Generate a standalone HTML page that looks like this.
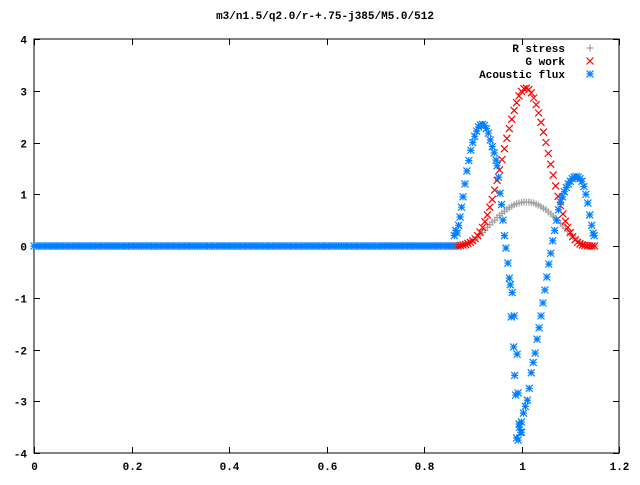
<!DOCTYPE html>
<html><head><meta charset="utf-8"><style>
html,body{margin:0;padding:0;background:#fff;}
svg text{font-family:"Liberation Mono",monospace;font-size:11px;font-weight:bold;fill:#000;}
</style></head><body>
<svg id="chart" width="640" height="480" viewBox="0 0 640 480" xmlns="http://www.w3.org/2000/svg">
<rect width="640" height="480" fill="#fff"/>
<text x="325" y="19" text-anchor="middle">m3/n1.5/q2.0/r-+.75-j385/M5.0/512</text>
<g id="axes"></g>
<g id="marks"></g>
<g id="legend">
<text x="565" y="52" text-anchor="end">R stress</text>
<text x="565" y="65" text-anchor="end">G work</text>
<text x="565" y="78" text-anchor="end">Acoustic flux</text>
</g>
</svg>
<script>
const xTicks=[0,0.2,0.4,0.6,0.8,1,1.2];
const xTickLabels=["0","0.2","0.4","0.6","0.8","1","1.2"];
const yTicks=[-4,-3,-2,-1,0,1,2,3,4];
const yTickLabels=["-4","-3","-2","-1","0","1","2","3","4"];
const activeStart=0.86, activeStep=0.005;
const rStress=[0,0,0,.01,.02,.03,.05,.07,.1,.13,.17,.21,.26,.31,.36,.41,.46,.5,.55,.59,.63,.67,.71,.74,.77,.8,.82,.83,.84,.85,.85,.85,.84,.83,.81,.79,.76,.73,.7,.66,.62,.58,.54,.49,.44,.39,.34,.29,.24,.19,.15,.11,.08,.05,.03,.02,.01,0,0];
const gWork=[0,0,0,.01,.02,.03,.05,.07,.1,.14,.2,.27,.36,.47,.6,.75,.9,1.08,1.27,1.47,1.67,1.88,2.08,2.27,2.45,2.62,2.77,2.9,2.99,3.04,3.05,3.02,2.96,2.86,2.73,2.57,2.39,2.2,2.0,1.79,1.58,1.37,1.16,.96,.78,.62,.48,.36,.26,.18,.12,.07,.04,.02,.01,0,0,0,0];
const fluxX=[0.862,0.865,0.868,0.871,0.874,0.877,0.88,0.884,0.888,0.892,0.896,0.9,0.904,0.908,0.912,0.916,0.92,0.924,0.928,0.932,0.936,0.94,0.944,0.948,0.95,0.953,0.956,0.959,0.962,0.965,0.968,0.972,0.975,0.977,0.981,0.979,0.985,0.984,0.991,0.986,0.993,0.988,0.995,0.996,0.99,0.998,0.993,1.0,1.0,1.004,1.008,1.012,1.016,1.02,1.024,1.028,1.032,1.036,1.04,1.044,1.048,1.052,1.056,1.06,1.064,1.068,1.072,1.076,1.08,1.084,1.088,1.092,1.096,1.1,1.104,1.108,1.112,1.116,1.12,1.124,1.128,1.132,1.136,1.14,1.144,1.147,1.149];
const fluxY=[0.2,0.3,0.25,0.4,0.56,0.75,0.95,1.2,1.45,1.65,1.85,2.0,2.12,2.22,2.3,2.34,2.35,2.33,2.27,2.18,2.05,1.92,1.8,1.66,1.55,1.33,1.02,0.8,0.5,0.2,-0.04,-0.33,-0.62,-0.75,-0.9,-1.37,-1.35,-1.95,-2.09,-2.5,-2.84,-2.88,-3.44,-3.5,-3.71,-3.6,-3.75,-3.6,-3.4,-3.23,-3.1,-2.98,-2.75,-2.45,-2.25,-2.07,-1.8,-1.58,-1.35,-1.1,-0.85,-0.6,-0.35,-0.14,0.1,0.3,0.5,0.7,0.85,0.95,1.05,1.13,1.2,1.25,1.3,1.33,1.34,1.33,1.3,1.25,1.15,1.0,0.83,0.6,0.4,0.25,0.2];
const baselineCount=173;
const baseline=new Array(baselineCount).fill(0);

const X0=34,X1=619,Y0=453,Y1=39,xMin=0,xMax=1.2,yMin=-4,yMax=4;
const sx=v=>X0+(v-xMin)/(xMax-xMin)*(X1-X0);
const sy=v=>Y0-(v-yMin)/(yMax-yMin)*(Y0-Y1);
const NS="http://www.w3.org/2000/svg";
const axes=document.getElementById('axes'), marks=document.getElementById('marks');
function mk(tag,attrs,parent){const e=document.createElementNS(NS,tag);for(const k in attrs)e.setAttribute(k,attrs[k]);parent.appendChild(e);return e;}
const frame=mk('rect',{x:X0,y:Y1,width:X1-X0,height:Y0-Y1,fill:'none',stroke:'#000','stroke-width':1},axes);


xTicks.forEach((t,i)=>{const x=Math.round(sx(t))+0.5;
 const tk=mk('path',{d:`M${x} ${Y0}V${Y0-6}M${x} ${Y1}V${Y1+6}`,stroke:'#000','stroke-width':1},axes);
 
 
 const lb=mk('text',{x:x,y:470,'text-anchor':'middle'},axes);lb.textContent=xTickLabels[i];
 
 
});
yTicks.forEach((t,i)=>{const y=Math.round(sy(t))+0.5;
 const tk=mk('path',{d:`M${X0} ${y}H${X0+6}M${X1} ${y}H${X1-6}`,stroke:'#000','stroke-width':1},axes);
 
 
 const lb=mk('text',{x:27,y:y+4,'text-anchor':'end'},axes);lb.textContent=yTickLabels[i];
 
 
});
const plus=(x,y)=>`M${x-3.5} ${y}H${x+3.5}M${x} ${y-3.5}V${y+3.5}`;
const cross=(x,y)=>`M${x-3.5} ${y-3.5}L${x+3.5} ${y+3.5}M${x-3.5} ${y+3.5}L${x+3.5} ${y-3.5}`;
const star=(x,y)=>plus(x,y)+cross(x,y);
function series(name,xs,ys,shape,color){let d='';for(let i=0;i<ys.length;i++)d+=shape(sx(xs[i]),sy(ys[i]));
 const p=mk('path',{d:d,stroke:color,'stroke-width':1.2,fill:'none'},marks);
 
 }
const activeX=rStress.map((_,i)=>activeStart+i*activeStep);
const baseX=baseline.map((_,i)=>i*activeStep);
series('r-stress-baseline',baseX,baseline,plus,'#a0a0a0');
series('r-stress-series',activeX,rStress,plus,'#a0a0a0');
series('g-work-series',activeX,gWork,cross,'#ff0000');
series('acoustic-flux-baseline',baseX,baseline,star,'#0080ff');
series('acoustic-flux-series',fluxX,fluxY,star,'#0080ff');
const lg=document.getElementById('legend');
[[plus,'#a0a0a0',48,'legend-marker-r-stress'],[cross,'#ff0000',61,'legend-marker-g-work'],[star,'#0080ff',74,'legend-marker-acoustic-flux']].forEach(a=>{
 const p=mk('path',{d:a[0](590,a[2]),stroke:a[1],'stroke-width':1.2,fill:'none'},lg);
 
 
});
</script>
</body></html>
